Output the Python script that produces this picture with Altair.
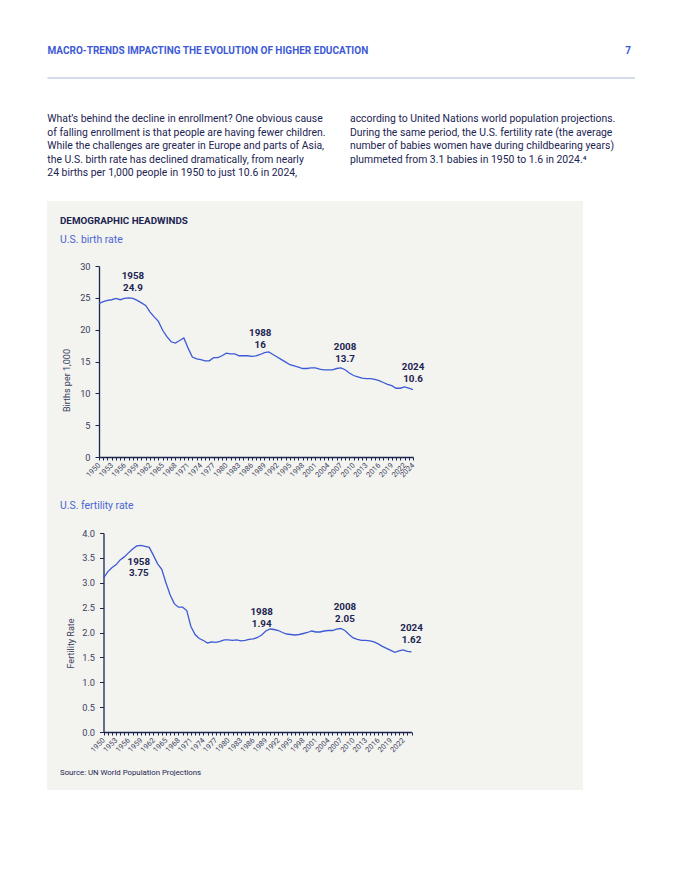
import altair as alt
import pandas as pd

# ---------------- data ----------------
years = list(range(1950, 2025))
birth_rate = [
    24.1, 24.4, 24.6, 24.7, 24.9, 24.7, 24.9, 25.0, 24.9, 24.6,
    24.2, 23.8, 22.8, 22.0, 21.3, 19.9, 18.9, 18.1, 17.9, 18.3,
    18.7, 17.1, 15.7, 15.4, 15.3, 15.1, 15.1, 15.6, 15.6, 15.9,
    16.3, 16.2, 16.2, 15.9, 15.9, 15.9, 15.8, 15.9, 16.1, 16.4,
    16.5, 16.1, 15.7, 15.3, 14.9, 14.5, 14.3, 14.1, 13.9, 13.9,
    14.0, 14.0, 13.8, 13.7, 13.7, 13.7, 13.9, 14.0, 13.7, 13.2,
    12.8, 12.6, 12.4, 12.3, 12.3, 12.2, 12.0, 11.7, 11.4, 11.2,
    10.8, 10.8, 11.0, 10.8, 10.6,
]
fertility_rate = [
    3.09, 3.22, 3.30, 3.36, 3.46, 3.52, 3.60, 3.68, 3.74, 3.75,
    3.73, 3.71, 3.55, 3.38, 3.27, 3.00, 2.76, 2.58, 2.51, 2.51,
    2.44, 2.12, 1.96, 1.88, 1.84, 1.79, 1.81, 1.80, 1.82, 1.85,
    1.85, 1.84, 1.85, 1.83, 1.84, 1.86, 1.87, 1.90, 1.95, 2.03,
    2.07, 2.06, 2.04, 2.00, 1.97, 1.96, 1.95, 1.96, 1.98, 2.00,
    2.03, 2.01, 2.01, 2.03, 2.04, 2.04, 2.07, 2.08, 2.04, 1.96,
    1.89, 1.86, 1.84, 1.84, 1.83, 1.81, 1.77, 1.72, 1.68, 1.64,
    1.60, 1.63, 1.65, 1.62, 1.61,
]
ann_years = [1958, 1988, 2008, 2024]
birth_ann_values = [24.9, 16.0, 13.7, 10.6]
birth_ann_labels = ["24.9", "16", "13.7", "10.6"]
fert_ann_values = [3.75, 1.94, 2.05, 1.62]
fert_ann_labels = ["3.75", "1.94", "2.05", "1.62"]
birth_ticks = [0, 5, 10, 15, 20, 25, 30]
fert_ticks = [0, 0.5, 1, 1.5, 2, 2.5, 3, 3.5, 4]

header = "MACRO-TRENDS IMPACTING THE EVOLUTION OF HIGHER EDUCATION"
page_no = "7"
para_left = [
    "What\u2019s behind the decline in enrollment? One obvious cause",
    "of falling enrollment is that people are having fewer children.",
    "While the challenges are greater in Europe and parts of Asia,",
    "the U.S. birth rate has declined dramatically, from nearly",
    "24 births per 1,000 people in 1950 to just 10.6 in 2024,",
]
para_right = [
    "according to United Nations world population projections.",
    "During the same period, the U.S. fertility rate (the average",
    "number of babies women have during childbearing years)",
    "plummeted from 3.1 babies in 1950 to 1.6 in 2024.\u2074",
]
panel_title = "DEMOGRAPHIC HEADWINDS"
sub_birth = "U.S. birth rate"
sub_fert = "U.S. fertility rate"
source = "Source: UN World Population Projections"

# ---------------- style ----------------
F = "Roboto"
NAVY = "#1c2452"
BLUE = "#3d5ad6"
SUBBLUE = "#4a66d4"
AXIS_TXT = "#3a3f5e"
PANEL = "#f3f3ef"
RULE = "#a7bad6"

# ---------------- header / text block ----------------
one = pd.DataFrame({"a": [0]})
base = alt.Chart(one)


def txt(text, x, y, size, color, weight="normal", align="left", baseline="alphabetic", lh=None):
    kw = dict(font=F, fontSize=size, color=color, fontWeight=weight, align=align, baseline=baseline)
    if lh is not None:
        kw["lineHeight"] = lh
    return base.mark_text(**kw).encode(x=alt.value(x), y=alt.value(y), text=alt.value(text))


panel_rect = base.mark_rect(color=PANEL).encode(
    x=alt.value(-52), x2=alt.value(484), y=alt.value(193), y2=alt.value(782)
)
top_rule = base.mark_rule(color=RULE, strokeWidth=1).encode(
    x=alt.value(-51.5), x2=alt.value(536), y=alt.value(70)
)

chart_a = alt.layer(
    panel_rect,
    top_rule,
    txt(header, -51.5, 45.6, 10, BLUE, weight="bold"),
    txt(page_no, 529, 45.6, 10, BLUE, weight="bold", align="center"),
    txt(para_left, -51.7, 114.4, 10.4, NAVY, lh=13.4),
    txt(para_right, 251, 114.4, 10.4, NAVY, lh=13.4),
    txt(panel_title, -39, 216, 9.8, NAVY, weight="bold"),
    txt(sub_birth, -39, 234.8, 10.4, SUBBLUE),
    txt(sub_fert, -39, 501.2, 10.4, SUBBLUE),
    txt(source, -39, 766.5, 7.8, NAVY),
).properties(width=314, height=182)


# ---------------- line charts ----------------
def x_axis(show_last):
    cond = "((datum.value - 1950) % 3 == 0" + (" || datum.value == 2024)" if show_last else ")")
    return alt.Axis(
        values=years,
        format="d",
        labelExpr=cond + " ? datum.label : ''",
        labelAngle=315,
        labelAlign="right",
        labelBaseline="middle",
        labelFont=F,
        labelFontSize=7.4,
        labelColor=AXIS_TXT,
        labelPadding=4,
        labelOverlap=False,
        labelFlush=False,
        tickSize=3,
        tickColor=NAVY,
        tickWidth=1,
        domainColor=NAVY,
        domainWidth=1.3,
        grid=False,
        title="",
    )


def y_axis(vals, fmt, title, tx, ty, offset=0):
    return alt.Axis(
        values=vals,
        format=fmt,
        labelFont=F,
        labelFontSize=9.2,
        labelColor=AXIS_TXT,
        labelPadding=5,
        tickSize=4,
        tickColor=NAVY,
        domainColor=NAVY,
        domainWidth=1.3,
        grid=False,
        offset=offset,
        title=title,
        titleFont=F,
        titleFontSize=9,
        titleFontWeight="normal",
        titleColor=AXIS_TXT,
        titleAngle=270,
        titleAlign="center",
        titleBaseline="middle",
        titleX=tx,
        titleY=ty,
    )


ann_style = dict(font=F, fontSize=9.8, fontWeight="bold", color=NAVY, baseline="middle", align="center")

# birth rate
df_b = pd.DataFrame({"year": years, "rate": birth_rate})
ann_b = pd.DataFrame({
    "year": ann_years,
    "rate": birth_ann_values,
    "label": birth_ann_labels,
    "ylabel": [str(y) for y in ann_years],
})
xs_b = alt.Scale(domain=[1950, 2024], nice=False, zero=False)
ys_b = alt.Scale(domain=[0, 30], nice=False)
xa_b = x_axis(True)
ya_b = y_axis(birth_ticks, "d", "Births per 1,000", -33, 114)
X_b = alt.X("year:Q", scale=xs_b, axis=xa_b)
Y_b = alt.Y("rate:Q", scale=ys_b, axis=ya_b)

line_b = alt.Chart(df_b).mark_line(color=BLUE, strokeWidth=1.3).encode(x=X_b, y=Y_b)
ann_b_year = alt.Chart(ann_b).mark_text(dy=-22.5, **ann_style).encode(x=X_b, y=Y_b, text="ylabel:N")
ann_b_val = alt.Chart(ann_b).mark_text(dy=-10.5, **ann_style).encode(x=X_b, y=Y_b, text="label:N")
chart_b = alt.layer(line_b, ann_b_year, ann_b_val).properties(width=314, height=191)

# fertility rate
df_f = pd.DataFrame({"year": years, "rate": fertility_rate})
ann_f = pd.DataFrame({
    "year": ann_years,
    "rate": fert_ann_values,
    "label": fert_ann_labels,
    "ylabel": [str(y) for y in ann_years],
})
xs_f = alt.Scale(domain=[1950, 2024], nice=False, zero=False, range=[4.5, 312.5])
ys_f = alt.Scale(domain=[0, 4], nice=False)
xa_f = x_axis(False)
ya_f = y_axis(fert_ticks, ".1f", "Fertility Rate", -33, 110, offset=-4.5)
X_f = alt.X("year:Q", scale=xs_f, axis=xa_f)
Y_f = alt.Y("rate:Q", scale=ys_f, axis=ya_f)

line_f = alt.Chart(df_f).mark_line(color=BLUE, strokeWidth=1.3).encode(x=X_f, y=Y_f)


def ann_layer(dy, field, cond, dx=0):
    return alt.Chart(ann_f).transform_filter(cond).mark_text(dy=dy, dx=dx, **ann_style).encode(
        x=X_f, y=Y_f, text=f"{field}:N"
    )


chart_c = alt.layer(
    line_f,
    ann_layer(-23.5, "ylabel", "datum.year != 1958"),
    ann_layer(-11.5, "label", "datum.year != 1958"),
    ann_layer(16.5, "ylabel", "datum.year == 1958", dx=2),
    ann_layer(27.5, "label", "datum.year == 1958", dx=2),
).properties(width=313, height=199)

chart = alt.vconcat(chart_a, chart_b, chart_c, spacing=76, bounds="flush").properties(
    padding={"left": 39, "top": 0, "right": 4, "bottom": 4},
    background="white",
).configure_view(strokeWidth=0)

chart.save("out.html", embed_options={"renderer": "svg", "actions": False})
